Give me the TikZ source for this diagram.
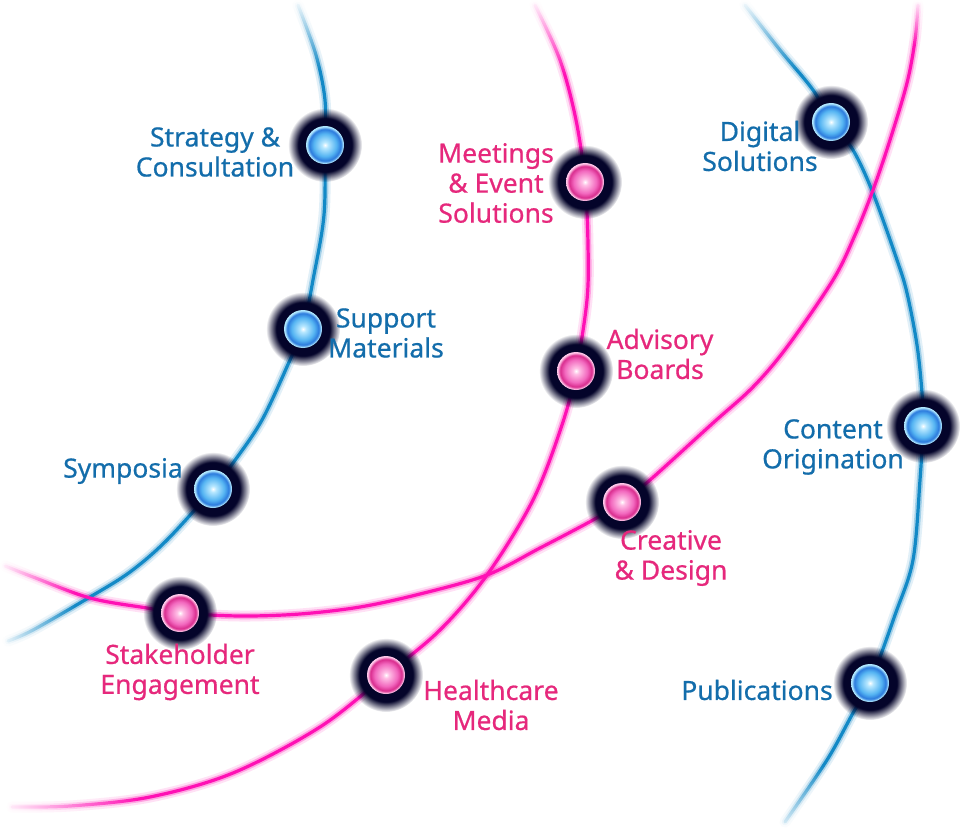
\documentclass[tikz,border=0pt]{standalone}
\usepackage{fontspec}
\setmainfont{Noto Sans}[FakeBold=0.6]
\usetikzlibrary{fadings}
\definecolor{bline}{HTML}{1289C6}
\definecolor{pline}{HTML}{FF10B4}
\definecolor{btext}{HTML}{136DAB}
\definecolor{ptext}{HTML}{E6287C}
\definecolor{halo}{HTML}{04042A}
\definecolor{bA}{HTML}{B8E8FF}
\definecolor{bB}{HTML}{55B4F2}
\definecolor{bC}{HTML}{2A78DC}
\definecolor{bD}{HTML}{B0E8FF}
\definecolor{pA}{HTML}{FFC0E6}
\definecolor{pB}{HTML}{F268BE}
\definecolor{pC}{HTML}{D82A8C}
\definecolor{pD}{HTML}{FFC8EA}
\pgfdeclareradialshading{blueball}{\pgfpoint{0bp}{0bp}}{color(0bp)=(white); color(4bp)=(bA); color(15bp)=(bB); color(21bp)=(bC); color(24bp)=(bD); color(50bp)=(bD)}
\pgfdeclareradialshading{pinkball}{\pgfpoint{0bp}{0bp}}{color(0bp)=(white); color(4bp)=(pA); color(15bp)=(pB); color(21bp)=(pC); color(24bp)=(pD); color(50bp)=(pD)}
\pgfdeclareradialshading{halofadeshade}{\pgfpoint{0bp}{0bp}}{color(0bp)=(white); color(18bp)=(white); color(25bp)=(black); color(50bp)=(black)}
\pgfdeclarefading{halofade}{\pgfuseshading{halofadeshade}}
\tikzfading[name=fadetop, top color=transparent!0, bottom color=transparent!100]
\tikzfading[name=fadeleft, left color=transparent!0, right color=transparent!100]
\tikzfading[name=fadebottom, top color=transparent!100, bottom color=transparent!0]
\tikzset{
  lbl/.style={font=\fontsize{26.5}{30}\selectfont, align=center, inner sep=0pt},
  blbl/.style={lbl, text=btext},
  plbl/.style={lbl, text=ptext},
  glowA/.style={line width=11pt, opacity=0.12, line cap=round},
  glowB/.style={line width=6.5pt, opacity=0.3, line cap=round},
  core/.style={line width=3.2pt, line cap=round},
  fadeover/.style={fill=white, draw=none}
}
\newcommand\orbdot[2]{%
  \fill[halo, path fading=halofade] (#1) circle[radius=37pt];
  \shade[shading=#2] (#1) circle[radius=19pt];
}
\begin{document}
\begin{tikzpicture}[x=1pt,y=-1pt]
\useasboundingbox[fill=white] (0,0) rectangle (963,834);
% dot positions
\coordinate (strat) at (325,145);
\coordinate (supp) at (303,329);
\coordinate (symp) at (213,489);
\coordinate (meet) at (585,182);
\coordinate (advi) at (576,371);
\coordinate (heal) at (386,675);
\coordinate (digi) at (831,122);
\coordinate (cont) at (923,426);
\coordinate (publ) at (870,683);
\coordinate (crea) at (622,502);
\coordinate (stak) at (180,613);
% curves
\foreach \s in {glowA,glowB,core}{
  \draw[\s, bline] plot[smooth, tension=0.55] coordinates {(298,5) (316,55) (325,100) (strat) (324,215) (313,280) (supp) (290,360) (262,420) (233,463) (symp) (167,540) (130,572) (90,597) (33,630) (8,641)};
  \draw[\s, pline] plot[smooth, tension=0.55] coordinates {(535,5) (560,60) (576,120) (meet) (588,245) (587,300) (advi) (562,425) (533,500) (487,575) (440,630) (heal) (320,727) (233,773) (150,797) (70,806) (12,807)};
  \draw[\s, bline] plot[smooth, tension=0.55] coordinates {(745,5) (780,50) (813,90) (digi) (853,150) (873,193) (897,260) (907,293) (917,345) (922,393) (cont) (920,480) (913,560) (895,615) (publ) (853,713) (827,760) (785,822)};
  \draw[\s, pline] plot[smooth, tension=0.55] coordinates {(918,5) (915,40) (907,83) (890,140) (873,190) (855,235) (833,280) (787,347) (753,387) (713,423) (650,480) (crea) (593,520) (540,548) (487,575) (420,594) (360,607) (300,614) (240,616) (stak) (147,608) (90,598) (33,577) (5,566)};
}
% fading ends
\fill[fadeover, path fading=fadetop] (265,-2) rectangle (350,70);
\fill[fadeover, path fading=fadetop] (505,-2) rectangle (595,75);
\fill[fadeover, path fading=fadetop] (715,-2) rectangle (815,70);
\fill[fadeover, path fading=fadetop] (885,-2) rectangle (945,45);
\fill[fadeover, path fading=fadeleft] (-2,540) rectangle (75,665);
\fill[fadeover, path fading=fadeleft] (-2,760) rectangle (140,836);
\fill[fadeover, path fading=fadebottom] (750,765) rectangle (870,836);
% orbs
\orbdot{strat}{blueball}
\orbdot{supp}{blueball}
\orbdot{symp}{blueball}
\orbdot{digi}{blueball}
\orbdot{cont}{blueball}
\orbdot{publ}{blueball}
\orbdot{meet}{pinkball}
\orbdot{advi}{pinkball}
\orbdot{heal}{pinkball}
\orbdot{crea}{pinkball}
\orbdot{stak}{pinkball}
% labels
\node[blbl] (lstrat) at (215,152) {Strategy \&\\Consultation};
\node[blbl] (lsupp) at (386,333) {Support\\Materials};
\node[blbl] (lsymp) at (123,471) {Symposia};
\node[blbl] (ldigi) at (760,146) {Digital\\Solutions};
\node[blbl] (lcont) at (833,447) {Content\\Origination};
\node[blbl] (lpubl) at (757,690) {Publications};
\node[plbl] (lmeet) at (496,183) {Meetings\\\& Event\\Solutions};
\node[plbl] (ladvi) at (660,354) {Advisory\\Boards};
\node[plbl] (lheal) at (491,705) {Healthcare\\Media};
\node[plbl] (lcrea) at (671,558) {Creative\\\& Design};
\node[plbl] (lstak) at (180,672) {Stakeholder\\Engagement};
\end{tikzpicture}
\end{document}
